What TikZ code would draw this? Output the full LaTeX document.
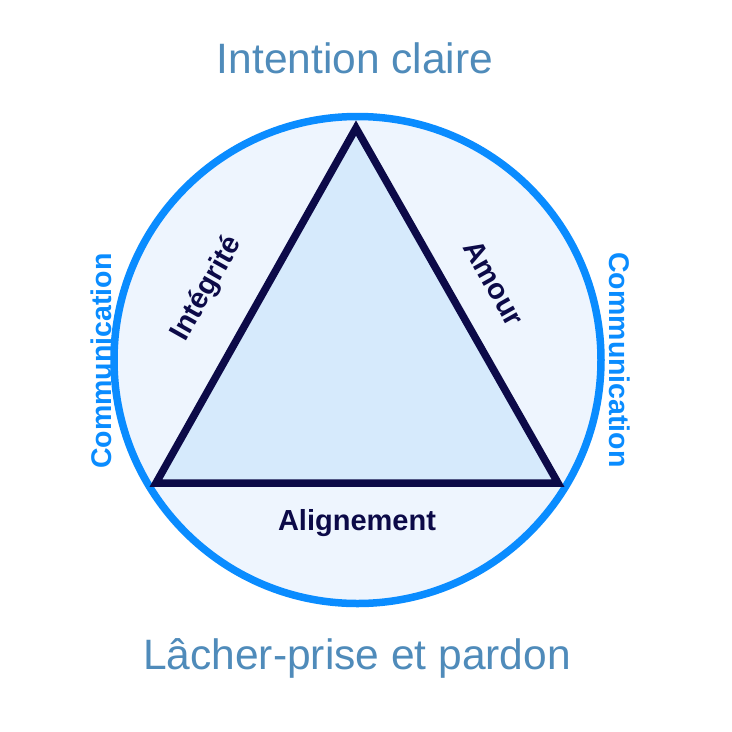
\documentclass[tikz,border=0pt]{standalone}
\usepackage{fontspec}
\setmainfont{Liberation Sans}
\definecolor{ringblue}{HTML}{0A8CFF}
\definecolor{ringfill}{HTML}{EEF5FE}
\definecolor{trifill}{HTML}{D6EAFC}
\definecolor{navy}{HTML}{0C0A48}
\definecolor{steel}{HTML}{4F8BBA}
\tikzset{
  title/.style={text=steel, font=\fontsize{42.5}{46}\selectfont, inner sep=0pt},
  comm/.style={text=ringblue, font=\fontsize{28.5}{31}\selectfont\bfseries, inner sep=0pt},
  side/.style={text=navy, font=\fontsize{29}{32}\selectfont\bfseries, inner sep=0pt},
}
\begin{document}
\begin{tikzpicture}[x=1pt,y=-1pt]
\useasboundingbox (0,0) rectangle (732,732);
\fill[white] (0,0) rectangle (732,732);
\draw[ringblue, line width=7.5pt, fill=ringfill] (357.5,360) circle[radius=243.5];
\coordinate (top) at (356,128);
\coordinate (bl) at (156,483);
\coordinate (br) at (558,483);
\draw[navy, line width=7.5pt, fill=trifill, line join=miter] (top) -- (bl) -- (br) -- cycle;
\node[title] (t1) at (355,58) {Intention claire};
\node[title] (t2) at (357,658) {Lâcher-prise et pardon};
\node[comm, rotate=90] (c1) at (101,361) {Communication};
\node[comm, rotate=-90] (c2) at (620,360) {Communication};
\node[side, rotate=60.6] (s1) at (207,289) {Intégrité};
\node[side, rotate=-60.6] (s2) at (494,283) {Amour};
\node[side] (s3) at (357,523) {Alignement};
\end{tikzpicture}
\end{document}
